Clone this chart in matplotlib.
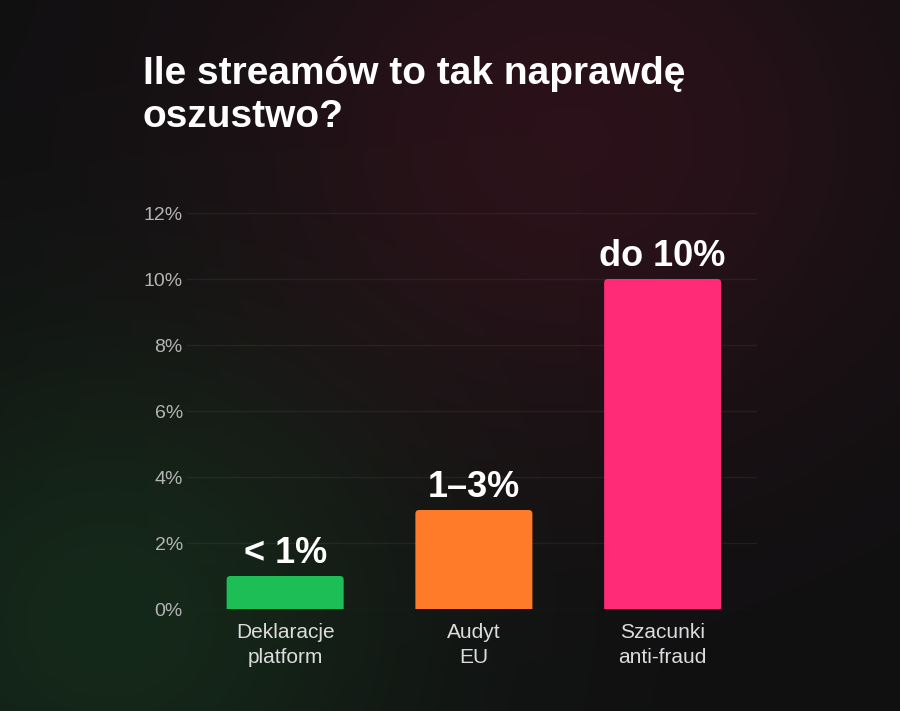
import numpy as np
import matplotlib
matplotlib.use('Agg')
import matplotlib.pyplot as plt
from matplotlib.patches import FancyBboxPatch

categories = ['Deklaracje\nplatform', 'Audyt\nEU', 'Szacunki\nanti-fraud']
values = [1, 3, 10]
value_labels = ['< 1%', '1–3%', 'do 10%']
bar_colors = ['#1ebe57', '#ff7a29', '#ff2b77']
yticks = [0, 2, 4, 6, 8, 10, 12]
title = 'Ile streamów to tak naprawdę\noszustwo?'

plt.rcParams['font.family'] = ['Liberation Sans', 'DejaVu Sans']

W, H = 900, 711
fig = plt.figure(figsize=(W / 100, H / 100), dpi=100)

# background: dark base with a magenta glow top-right and a green glow bottom-left
yy, xx = np.mgrid[0:H, 0:W].astype(float)
base = np.array([0.063, 0.063, 0.068])
mag = np.array([0.17, 0.07, 0.10]) - base
grn = np.array([0.08, 0.16, 0.10]) - base
g1 = np.exp(-(((xx - 570) / 340) ** 2 + ((yy - 140) / 300) ** 2))
g2 = np.exp(-(((xx - 110) / 300) ** 2 + ((yy - 620) / 280) ** 2))
img = base + g1[..., None] * mag + g2[..., None] * grn
bg = fig.add_axes([0, 0, 1, 1])
bg.imshow(np.clip(img, 0, 1), aspect='auto', extent=[0, 1, 0, 1])
bg.axis('off')

ax = fig.add_axes([187 / W, 1 - 609 / H, (757 - 187) / W, (609 - 213) / H])
ax.patch.set_alpha(0)
x = np.arange(len(categories))
bw = 0.62
bars = ax.bar(x, values, width=bw, color=bar_colors, zorder=3)
# swap the plain bars for ones with slightly rounded tops
for b in bars:
    b.set_visible(False)
    p = FancyBboxPatch((b.get_x(), -0.5), b.get_width(), b.get_height() + 0.5,
                       boxstyle='round,pad=0,rounding_size=0.02',
                       mutation_aspect=5.7, facecolor=b.get_facecolor(),
                       edgecolor='none', zorder=3)
    ax.add_patch(p)
for xi, v, lab in zip(x, values, value_labels):
    ax.text(xi, v + 0.15, lab, ha='center', va='bottom', fontsize=26,
            fontweight='bold', color='white', zorder=4)

ax.set_xlim(-0.52, 2.5)
ax.set_ylim(0, 12)
ax.set_yticks(yticks)
ax.set_yticklabels([f'{t}%' for t in yticks], color='#b4b4b4', fontsize=14)
ax.set_xticks(x)
ax.set_xticklabels(categories, color='#dcdcdc', fontsize=15, linespacing=1.4)
ax.tick_params(length=0, pad=3)
ax.tick_params(axis='x', pad=10)
ax.yaxis.grid(True, color='white', alpha=0.06, linewidth=1, zorder=0)
for s in ax.spines.values():
    s.set_visible(False)

fig.text(143 / W, 1 - 56 / H, title, ha='left', va='top', fontsize=28,
         fontweight='bold', color='white', linespacing=1.25)

plt.savefig('out.png', dpi=100)
